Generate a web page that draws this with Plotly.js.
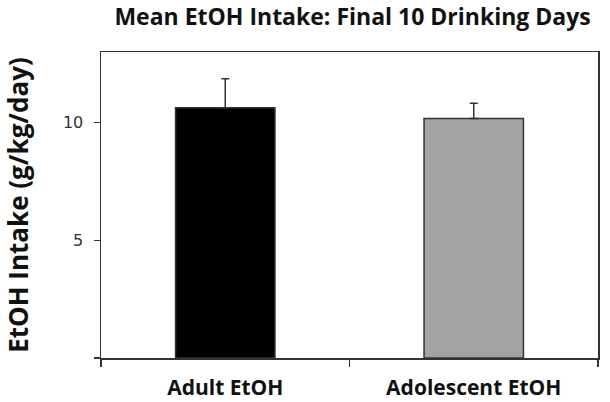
<!DOCTYPE html>
<html>
<head>
<meta charset="utf-8">
<script src="https://cdn.plot.ly/plotly-3.0.1.min.js"></script>
<style>
  html, body { margin: 0; padding: 0; background: #fff; }
  #chart { width: 610px; height: 402px; }
</style>
</head>
<body>
<div id="chart"></div>
<script>
// mean intake over the last 10 drinking days
const groups = ["Adult EtOH", "Adolescent EtOH"];
const meanIntake = [10.63, 10.17];
const semIntake = [1.23, 0.65];
const barColors = ["#000000", "#a5a2a2"];
const yTicks = [0, 5, 10];
const yTickText = ["", "5", "10"];

const boldFont = {family: "'Open Sans', sans-serif", weight: "bold", color: "#111"};

const trace = {
  type: "bar",
  x: groups,
  y: meanIntake,
  width: 0.4,
  marker: {color: barColors, line: {color: "#333", width: 1.5}},
  error_y: {
    type: "data",
    symmetric: false,
    array: semIntake,
    arrayminus: [0, 0],
    color: "#333",
    thickness: 1.5,
    width: 4
  },
  hoverinfo: "none"
};

const layout = {
  width: 610,
  height: 402,
  margin: {l: 101, r: 12, t: 52, b: 44},
  paper_bgcolor: "#fff",
  plot_bgcolor: "#fff",
  showlegend: false,
  title: {
    text: "Mean EtOH Intake: Final 10 Drinking Days",
    font: Object.assign({size: 23}, boldFont),
    x: 0.578, xanchor: "center",
    y: 0.958, yanchor: "middle"
  },
  xaxis: {
    type: "category",
    tickson: "boundaries",
    ticks: "outside",
    ticklen: 7,
    tickcolor: "#333",
    tickwidth: 1.5,
    showline: true,
    mirror: true,
    linecolor: "#333",
    linewidth: 1.5,
    showgrid: false,
    ticklabelstandoff: 10,
    tickfont: Object.assign({size: 21}, boldFont)
  },
  yaxis: {
    range: [0, 13],
    tickvals: yTicks,
    ticktext: yTickText,
    ticks: "outside",
    ticklen: 6,
    tickcolor: "#333",
    tickwidth: 1.5,
    showline: true,
    mirror: true,
    linecolor: "#333",
    linewidth: 1.5,
    showgrid: false,
    zeroline: false,
    ticklabelstandoff: 7,
    tickfont: {family: "'DejaVu Sans', sans-serif", size: 16, color: "#333"},
    title: {
      text: "EtOH Intake (g/kg/day)",
      font: Object.assign({size: 26}, boldFont),
      standoff: 30
    }
  }
};

Plotly.newPlot("chart", [trace], layout, {displayModeBar: false, staticPlot: true});
</script>
</body>
</html>
